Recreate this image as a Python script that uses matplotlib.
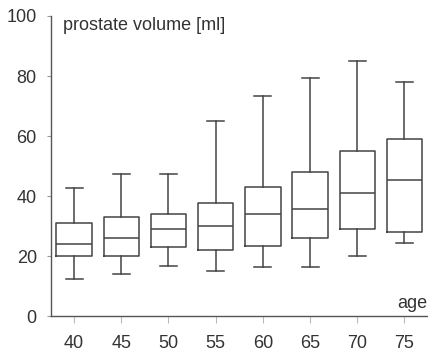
import matplotlib
matplotlib.use("Agg")
import matplotlib.pyplot as plt

plt.rcParams['font.family'] = ['Liberation Sans', 'DejaVu Sans']

ages = ["40", "45", "50", "55", "60", "65", "70", "75"]
whis_lo = [12.4, 14.0, 16.6, 15.2, 16.3, 16.3, 20.1, 24.3]
q1 = [20.1, 20.0, 23.1, 22.1, 23.4, 26.1, 29.1, 28.2]
median = [24.2, 26.2, 29.1, 30.1, 34.2, 35.8, 41.1, 45.3]
q3 = [31.1, 33.1, 34.1, 37.7, 42.9, 48.2, 55.2, 59.0]
whis_hi = [42.6, 47.5, 47.5, 65.1, 73.2, 79.3, 85.0, 78.1]

stats = [dict(label=a, whislo=lo, q1=a1, med=m, q3=a3, whishi=hi, fliers=[])
         for a, lo, a1, m, a3, hi in zip(ages, whis_lo, q1, median, q3, whis_hi)]

fig = plt.figure(figsize=(4.28, 3.52), dpi=100)
ax = fig.add_axes([50.7/428, 35.7/352, (428-50.7)/428, (316.3-16)/352])

lc = '#444444'
lw = 1.1
ax.bxp(stats, positions=range(1, len(ages)+1), widths=0.75, showfliers=False,
       boxprops=dict(color=lc, linewidth=lw),
       whiskerprops=dict(color=lc, linewidth=lw),
       capprops=dict(color=lc, linewidth=lw),
       medianprops=dict(color=lc, linewidth=lw),
       capwidths=0.36)

ax.set_xlim(0.506, 8.5)
ax.set_ylim(0, 100)
ax.set_yticks([0, 20, 40, 60, 80, 100])
ax.set_xticks(range(1, len(ages)+1))
ax.set_xticklabels(ages)
for s in ['top', 'right']:
    ax.spines[s].set_visible(False)
for s in ['left', 'bottom']:
    ax.spines[s].set_color('#555555')
    ax.spines[s].set_linewidth(1.0)
ax.tick_params(axis='y', length=3, width=0.8, color='#999999', labelsize=13, labelcolor='#333333', pad=7)
ax.tick_params(axis='x', length=5, width=0.8, color='#bbbbbb', labelsize=13, labelcolor='#333333', pad=8.5)

ax.text(63/428, 1 - 25/352, "prostate volume [ml]", transform=fig.transFigure,
        fontsize=13, color='#333333', ha='left', va='center')
ax.text(427/428, 1 - 303/352, "age", transform=fig.transFigure,
        fontsize=13, color='#333333', ha='right', va='center')

fig.savefig("out.png", dpi=100)
